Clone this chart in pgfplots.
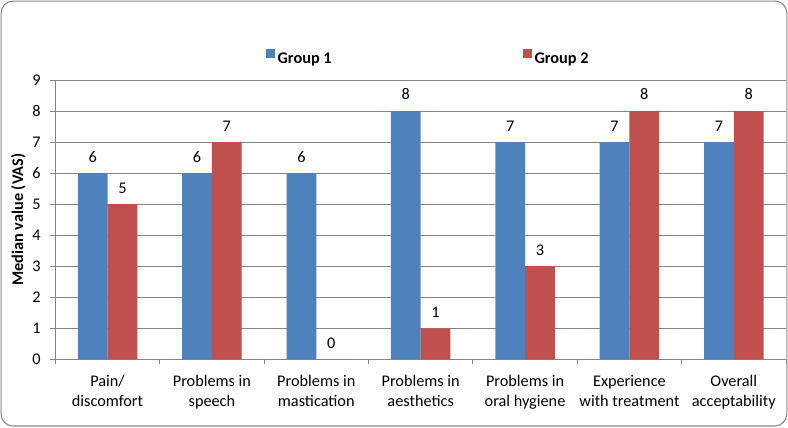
\documentclass[border=0pt]{standalone}
\usepackage{pgfplots}
\pgfplotsset{compat=1.18}
\usepackage{fontspec}
\setmainfont{Carlito}
\definecolor{gblue}{HTML}{4F81BD}
\definecolor{gred}{HTML}{C0504D}
\definecolor{gridgray}{HTML}{868686}
\definecolor{framegray}{HTML}{878787}
\newcommand{\lblfont}{\fontsize{12.2}{15}\selectfont}
\begin{document}
\begin{tikzpicture}
\useasboundingbox (-41.5pt,-50.8pt) rectangle (549.5pt,269.5pt);
\draw[framegray, line width=0.8pt, rounded corners=9pt] (-40.7pt,-50pt) rectangle (548.6pt,268.7pt);
\begin{axis}[
  at={(0pt,0pt)}, anchor=south west,
  scale only axis,
  width=548pt, height=209.5pt,
  ybar=0pt, bar width=22.3pt,
  xmin=-0.5, xmax=6.5,
  ymin=0, ymax=9,
  ytick={0,...,9},
  xtick={-0.5,0.5,...,6.5},
  xticklabels={{Pain/\\discomfort},{Problems in\\speech},{Problems in\\mastication},{Problems in\\aesthetics},{Problems in\\oral hygiene},{Experience\\with treatment},{Overall\\acceptability},{}},
  x tick label style={font=\lblfont, align=center, xshift=39.14pt, inner sep=0pt, anchor=north, yshift=-8pt},
  y tick label style={font=\lblfont, inner sep=0pt, anchor=east, xshift=-7pt},
  /pgf/number format/assume math mode=true,
  tick align=outside,
  major tick length=3.75pt,
  tick style={gridgray, line width=0.6pt},
  axis x line*=bottom, axis y line*=left,
  axis line style={gridgray, line width=0.6pt, -},
  ymajorgrids, grid style={gridgray, line width=0.6pt},
  ylabel={\bfseries Median value (VAS)},
  every axis y label/.style={at={(axis description cs:-0.0506,0.5)}, rotate=90, anchor=center, font=\lblfont},
  nodes near coords,
  every node near coord/.append style={font=\lblfont, black, anchor=south, inner sep=0pt, yshift=8pt},
  clip=false,
  legend columns=2,
  legend style={at={(axis description cs:0.511,1)}, anchor=center, yshift=16pt, draw=none, fill=none, font=\lblfont\bfseries,
    /tikz/every even column/.append style={column sep=141.5pt}},
]
\addplot[fill=gblue, draw=none, legend image code/.code={\fill[gblue] (0pt,0.8pt) rectangle (6.6pt,7.4pt);}] coordinates {(0,6) (1,6) (2,6) (3,8) (4,7) (5,7) (6,7)};
\addplot[fill=gred, draw=none, legend image code/.code={\fill[gred] (0pt,0.8pt) rectangle (6.6pt,7.4pt);}] coordinates {(0,5) (1,7) (2,0) (3,1) (4,3) (5,8) (6,8)};
\legend{Group 1, Group 2}
\end{axis}
\end{tikzpicture}
\end{document}
